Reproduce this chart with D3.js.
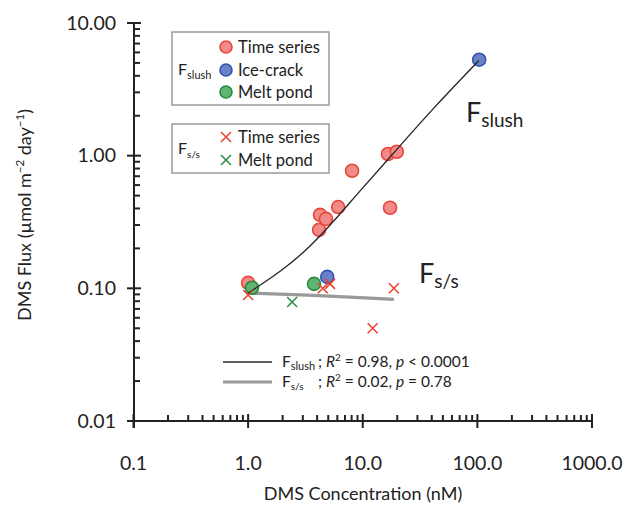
<!DOCTYPE html>
<html><head><meta charset="utf-8">
<script src="https://cdn.jsdelivr.net/npm/d3@7"></script>
<style>body{margin:0;background:#fff} svg text{font-family:Lato,"Open Sans",sans-serif;fill:#222}</style>
</head><body><svg id="c" width="629" height="506"></svg>
<script>
const xTickValues=[0.1,1,10,100,1000];
const xTickLabels=["0.1","1.0","10.0","100.0","1000.0"];
const yTickValues=[0.01,0.1,1,10];
const yTickLabels=["0.01","0.10","1.00","10.00"];
const slushTimeSeries=[[1.0,0.11],[4.16,0.276],[4.24,0.358],[4.78,0.334],[6.1,0.41],[8.07,0.77],[16.6,1.03],[19.8,1.07],[17.3,0.405]];
const slushIceCrack=[[4.9,0.122],[103.7,5.29]];
const slushMeltPond=[[1.08,0.101],[3.76,0.108]];
const ssTimeSeries=[[1.0,0.089],[4.48,0.1],[5.18,0.108],[18.7,0.1],[12.2,0.05]];
const ssMeltPond=[[2.42,0.079]];
const slushFit=[[1.0,0.092],[2.02,0.1375],[3.47,0.205],[5.73,0.328],[9.46,0.544],[16.27,0.917],[40.9,2.27],[103.1,5.22]];
const ssFit=[[1.0,0.092],[3.47,0.089],[18.7,0.0826]];

const svg=d3.select("#c");
const x=d3.scaleLog().domain([0.1,1000]).range([133.5,592]);
const y=d3.scaleLog().domain([0.01,10]).range([421,23]);
const ink="#222";
const X0=134, Y0=421;

const minorX=[],minorY=[];
[0.1,1,10,100].forEach(d=>{for(let k=2;k<=9;k++)minorX.push(d*k);});
[0.01,0.1,1].forEach(d=>{for(let k=2;k<=9;k++)minorY.push(d*k);});

const ax=svg.append("g").attr("stroke",ink).attr("stroke-width",2);
ax.append("line").attr("x1",127).attr("x2",x(1000)).attr("y1",Y0).attr("y2",Y0);
ax.append("line").attr("x1",X0).attr("x2",X0).attr("y1",y(10)-1).attr("y2",Y0+7);
ax.append("g").selectAll("line").data(minorX).join("line").attr("x1",d=>x(d)).attr("x2",d=>x(d)).attr("y1",Y0).attr("y2",Y0-6);
ax.append("g").selectAll("line").data(xTickValues).join("line").attr("x1",d=>x(d)).attr("x2",d=>x(d)).attr("y1",Y0-7).attr("y2",Y0+7);
ax.append("g").selectAll("line").data(minorY).join("line").attr("x1",X0).attr("x2",X0+6).attr("y1",d=>y(d)).attr("y2",d=>y(d));
ax.append("g").selectAll("line").data(yTickValues).join("line").attr("x1",X0-7).attr("x2",X0+7).attr("y1",d=>y(d)).attr("y2",d=>y(d));

svg.append("g").selectAll("text").data(xTickValues).join("text")
  .attr("x",d=>x(d)).attr("y",470).attr("text-anchor","middle").style("font-size","19.5px").attr("fill","#333")
  .text((d,i)=>xTickLabels[i]);
svg.append("g").selectAll("text").data(yTickValues).join("text")
  .attr("x",116).attr("y",d=>y(d)).attr("dy","0.35em").attr("text-anchor","end").style("font-size","19.5px").attr("fill","#333")
  .text((d,i)=>yTickLabels[i]);

const line=d3.line().x(d=>x(d[0])).y(d=>y(d[1])).curve(d3.curveBasis);
svg.append("path").datum(ssFit).attr("d",line).attr("fill","none").attr("stroke","#9a9a9a").attr("stroke-width",3.2);

function circles(data,fill,stroke){
  svg.append("g").selectAll("circle").data(data).join("circle")
    .attr("cx",d=>x(d[0])).attr("cy",d=>y(d[1])).attr("r",6.5)
    .attr("fill",fill).attr("stroke",stroke).attr("stroke-width",1.6);
}
const redF="#f28b87",redS="#e8453c",blueF="#6b80c6",blueS="#2f55ad",greenF="#5fb571",greenS="#2b8a40";
circles(slushTimeSeries,redF,redS);
circles(slushIceCrack,blueF,blueS);
circles(slushMeltPond,greenF,greenS);

svg.append("path").datum(slushFit).attr("d",line).attr("fill","none").attr("stroke","#2a2a2a").attr("stroke-width",1.4);

function crosses(data,color){
  const s=5;
  svg.append("g").selectAll("path").data(data).join("path")
    .attr("d",d=>{const cx=x(d[0]),cy=y(d[1]);return `M${cx-s},${cy-s}L${cx+s},${cy+s}M${cx-s},${cy+s}L${cx+s},${cy-s}`;})
    .attr("stroke",color).attr("stroke-width",1.5).attr("fill","none");
}
crosses(ssTimeSeries,"#e8402f");
crosses(ssMeltPond,"#2b8a40");

const leg=svg.append("g");
leg.append("rect").attr("x",172).attr("y",32).attr("width",157).attr("height",73).attr("fill","#fff").attr("stroke","#999").attr("stroke-width",1.5);
leg.append("rect").attr("x",172).attr("y",124).attr("width",157).attr("height",49).attr("fill","#fff").attr("stroke","#999").attr("stroke-width",1.5);
const legC=[["Time series",redF,redS,47],["Ice-crack",blueF,blueS,70],["Melt pond",greenF,greenS,92]];
legC.forEach(e=>{
  leg.append("circle").attr("cx",226).attr("cy",e[3]).attr("r",6).attr("fill",e[1]).attr("stroke",e[2]).attr("stroke-width",1.6);
  leg.append("text").attr("x",238).attr("y",e[3]+6).style("font-size","16.5px").text(e[0]);
});
const legX=[["Time series","#e8402f",137],["Melt pond","#2b8a40",160]];
legX.forEach(e=>{
  const s=5,cx=226,cy=e[2];
  leg.append("path").attr("d",`M${cx-s},${cy-s}L${cx+s},${cy+s}M${cx-s},${cy+s}L${cx+s},${cy-s}`).attr("stroke",e[1]).attr("stroke-width",1.5);
  leg.append("text").attr("x",238).attr("y",cy+6).style("font-size","16.5px").text(e[0]);
});
function fsub(g,xx,yy,sub,fs,ss,dy){
  const t=g.append("text").attr("x",xx).attr("y",yy).style("font-size",fs+"px");
  t.append("tspan").text("F");
  t.append("tspan").attr("dy",dy).style("font-size",ss+"px").text(sub);
  return t;
}
fsub(leg,178,75,"slush",16,11,4);
fsub(leg,178,154,"s/s",16,10,4);

fsub(svg,466,122,"slush",27,19,5);
fsub(svg,419,283,"s/s",27,19,5);

svg.append("line").attr("x1",223).attr("x2",272).attr("y1",362).attr("y2",362).attr("stroke","#2a2a2a").attr("stroke-width",1.4);
svg.append("line").attr("x1",223).attr("x2",272).attr("y1",382).attr("y2",382).attr("stroke","#9a9a9a").attr("stroke-width",3.2);
fsub(svg,282,367,"slush",15.5,11,3);
fsub(svg,282,387,"s/s",15.5,10,3);
function stat(yy,r2,pOp,pv){
  const t=svg.append("text").attr("x",318).attr("y",yy).style("font-size","15.5px");
  t.append("tspan").text("; ");
  t.append("tspan").style("font-style","italic").text("R");
  t.append("tspan").attr("dy",-6).style("font-size","10px").text("2");
  t.append("tspan").attr("dy",6).text(" = "+r2+", ");
  t.append("tspan").style("font-style","italic").text("p");
  t.append("tspan").text(" "+pOp+" "+pv);
}
stat(367,"0.98","<","0.0001");
stat(387,"0.02","=","0.78");

svg.append("text").attr("x",363).attr("y",500).attr("text-anchor","middle").style("font-size","18px").attr("fill","#333").text("DMS Concentration (nM)");
const yt=svg.append("text").attr("transform","translate(31,215) rotate(-90)").attr("text-anchor","middle").style("font-size","18px").attr("fill","#333");
yt.append("tspan").text("DMS Flux (µmol m");
yt.append("tspan").attr("dy",-7).style("font-size","11.5px").text("−2");
yt.append("tspan").attr("dy",7).text(" day");
yt.append("tspan").attr("dy",-7).style("font-size","11.5px").text("−1");
yt.append("tspan").attr("dy",7).text(")");
</script></body></html>
